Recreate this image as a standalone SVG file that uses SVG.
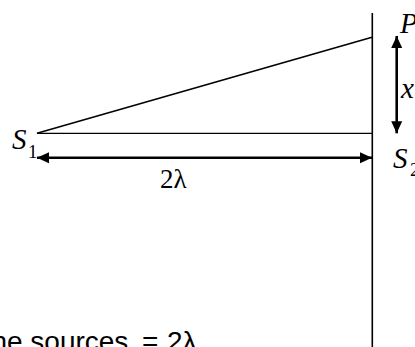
<svg xmlns="http://www.w3.org/2000/svg" width="415" height="347" viewBox="0 0 415 347">
<defs>
<marker id="ah" viewBox="0 0 12 12" refX="12" refY="6" markerWidth="12" markerHeight="12" markerUnits="userSpaceOnUse" orient="auto-start-reverse">
<path d="M0,0.5 L12,6 L0,11.5 Z" fill="#000"/>
</marker>
<style>
.ln{stroke:#000;fill:none}
.lab{font-family:"Liberation Serif","Times New Roman",serif;font-style:italic;font-size:29px;fill:#000}
.rm{font-family:"Liberation Serif","Times New Roman",serif;font-size:27px;fill:#000}
.sub{font-family:"Liberation Serif","Times New Roman",serif;font-size:19px;fill:#000}
.txt{font-family:"Liberation Sans",Arial,sans-serif;font-size:28px;fill:#000}
</style>
</defs>
<g id="connectors">
<line class="ln" x1="372.3" y1="13" x2="372.3" y2="347" stroke-width="1.6"/>
<line class="ln" x1="37" y1="133.3" x2="372" y2="37.3" stroke-width="1.6"/>
<line class="ln" x1="37" y1="133.3" x2="372" y2="133.3" stroke-width="1.3"/>
<line class="ln" x1="37" y1="157.7" x2="372" y2="157.7" stroke-width="2.6" marker-start="url(#ah)" marker-end="url(#ah)"/>
<line class="ln" x1="396.7" y1="36" x2="396.7" y2="133.3" stroke-width="2.6" marker-start="url(#ah)" marker-end="url(#ah)"/>
</g>
<g id="S1"><text class="lab" x="12" y="149">S</text><text class="sub" x="28" y="158">1</text></g>
<g id="S2"><text class="lab" x="393" y="168">S</text><text class="sub" x="410" y="176">2</text></g>
<g id="P"><text class="lab" x="400" y="33">P</text></g>
<g id="x"><text class="lab" x="401" y="98">x</text></g>
<g id="dist"><text class="rm" x="160" y="188">2λ</text></g>
<text class="txt" y="351"><tspan x="-8.6">he sources</tspan><tspan x="142">=</tspan><tspan x="167">2λ</tspan></text>
</svg>
